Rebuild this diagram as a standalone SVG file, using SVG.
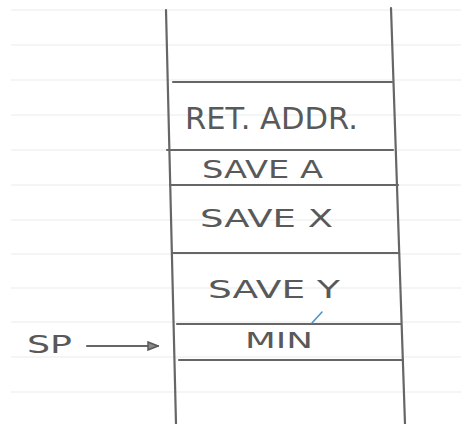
<svg xmlns="http://www.w3.org/2000/svg" width="461" height="424" viewBox="0 0 461 424">
<style>
.rule{stroke:#f1f3f3;stroke-width:1.5}
.ink{stroke:#666666;stroke-width:2.2;fill:none;stroke-linecap:round}
.lbl{font-family:"DejaVu Sans","Liberation Sans",sans-serif;fill:#595959;text-anchor:start}
</style>
<defs>
<marker id="ah" viewBox="0 0 12 10" refX="11" refY="5" markerWidth="12" markerHeight="10" markerUnits="userSpaceOnUse" orient="auto">
<path d="M1,1 L11,5 L1,9 Z" fill="#8a8a8a" stroke="#5a5a5a" stroke-width="1.5"/>
</marker>
</defs>
<rect width="461" height="424" fill="#ffffff"/>
<g id="paper">
<line class="rule" x1="11" y1="10" x2="461" y2="10"/>
<line class="rule" x1="11" y1="45" x2="461" y2="45"/>
<line class="rule" x1="11" y1="80" x2="461" y2="80"/>
<line class="rule" x1="11" y1="115" x2="461" y2="115"/>
<line class="rule" x1="11" y1="150" x2="461" y2="150"/>
<line class="rule" x1="11" y1="185" x2="461" y2="185"/>
<line class="rule" x1="11" y1="220" x2="461" y2="220"/>
<line class="rule" x1="11" y1="254" x2="461" y2="254"/>
<line class="rule" x1="11" y1="288" x2="461" y2="288"/>
<line class="rule" x1="11" y1="322" x2="461" y2="322"/>
<line class="rule" x1="11" y1="357" x2="461" y2="357"/>
<line class="rule" x1="11" y1="392" x2="461" y2="392"/>
</g>
<g id="stack">
<line class="ink" x1="166" y1="10" x2="176" y2="424"/>
<line class="ink" x1="391" y1="8" x2="405" y2="424"/>
<line class="ink" x1="173" y1="82" x2="392" y2="82"/>
<line class="ink" x1="167" y1="150" x2="393" y2="150"/>
<line class="ink" x1="170" y1="185" x2="398" y2="185"/>
<line class="ink" x1="172" y1="253" x2="398" y2="253"/>
<line class="ink" x1="177" y1="324" x2="401" y2="324"/>
<line class="ink" x1="179" y1="360" x2="403" y2="360"/>
</g>
<g id="ret-addr"><text class="lbl" x="185" y="129" font-size="30" textLength="173" lengthAdjust="spacingAndGlyphs">RET. ADDR.</text></g>
<g id="save-a"><text class="lbl" x="202" y="178" font-size="24" textLength="121" lengthAdjust="spacingAndGlyphs">SAVE A</text></g>
<g id="save-x"><text class="lbl" x="200" y="227" font-size="24" textLength="133" lengthAdjust="spacingAndGlyphs">SAVE X</text></g>
<g id="save-y"><text class="lbl" x="208" y="298" font-size="24" textLength="132" lengthAdjust="spacingAndGlyphs">SAVE Y</text>
<line x1="312" y1="323" x2="322" y2="312" stroke="#4a90c8" stroke-width="1.5" stroke-linecap="round"/></g>
<g id="min"><text class="lbl" x="245" y="348" font-size="22" textLength="68" lengthAdjust="spacingAndGlyphs">MIN</text></g>
<g id="sp"><text class="lbl" x="27" y="353" font-size="24" textLength="45" lengthAdjust="spacingAndGlyphs">SP</text></g>
<g id="connectors">
<line class="ink" x1="87" y1="346" x2="158" y2="346" stroke-width="1.8" marker-end="url(#ah)"/>
</g>
</svg>
